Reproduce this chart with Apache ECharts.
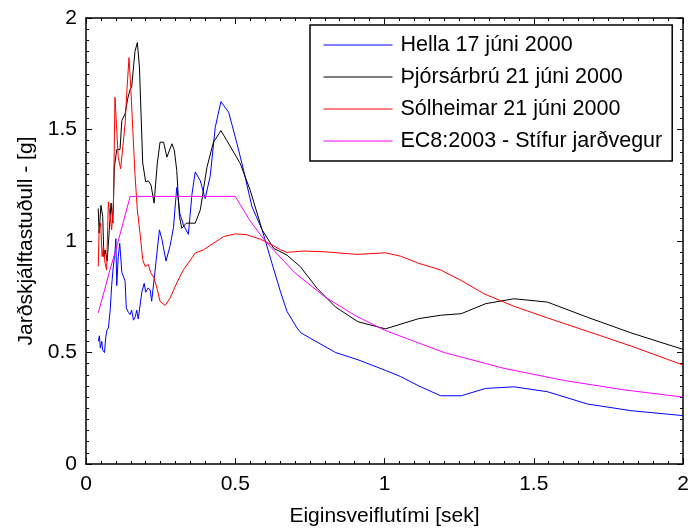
<!DOCTYPE html>
<html>
<head>
<meta charset="utf-8">
<script src="https://cdn.jsdelivr.net/npm/echarts@6/dist/echarts.min.js"></script>
<style>
html,body{margin:0;padding:0;background:#fff;}
#chart{width:692px;height:532px;}
</style>
</head>
<body>
<div id="chart"></div>
<script>
// ---- Data (period T [sek], spectral acceleration [g]) ----
var seriesNames = ['Hella 17 júni 2000', 'Þjórsárbrú 21 júni 2000', 'Sólheimar 21 júni 2000', 'EC8:2003 - Stífur jarðvegur'];

var hellaT  = [0.041,0.045,0.048,0.053,0.056,0.062,0.066,0.070,0.075,0.081,0.086,0.091,0.097,0.100,0.103,0.108,0.113,0.120,0.125,0.131,0.135,0.142,0.148,0.153,0.159,0.165,0.170,0.175,0.179,0.187,0.195,0.200,0.208,0.215,0.220,0.230,0.246,0.254,0.268,0.282,0.293,0.304,0.315,0.327,0.343,0.355,0.366,0.383,0.399,0.416,0.433,0.452,0.478,0.506,0.528,0.556,0.590,0.623,0.651,0.673,0.707,0.720,0.836,0.914,1.003,1.054,1.115,1.188,1.257,1.339,1.434,1.546,1.680,1.826,2.000];
var hellaSa = [0.55,0.575,0.52,0.55,0.51,0.50,0.566,0.60,0.61,0.69,0.80,0.88,0.95,1.01,0.80,0.93,0.99,0.86,0.86,0.82,0.70,0.68,0.67,0.69,0.645,0.66,0.69,0.65,0.65,0.77,0.81,0.77,0.79,0.78,0.73,0.85,1.05,1.01,0.91,0.98,1.06,1.24,1.12,1.07,1.03,1.21,1.31,1.27,1.19,1.29,1.51,1.625,1.577,1.436,1.317,1.154,1.05,0.90,0.775,0.685,0.61,0.588,0.50,0.466,0.42,0.392,0.35,0.306,0.306,0.339,0.346,0.324,0.269,0.239,0.217];

var thjorsT  = [0.041,0.044,0.050,0.056,0.060,0.064,0.071,0.078,0.084,0.090,0.095,0.103,0.114,0.120,0.131,0.140,0.148,0.153,0.164,0.172,0.179,0.190,0.200,0.209,0.218,0.228,0.239,0.248,0.260,0.271,0.288,0.296,0.304,0.313,0.321,0.336,0.366,0.383,0.405,0.427,0.452,0.472,0.517,0.550,0.590,0.629,0.673,0.718,0.774,0.836,0.911,1.003,1.115,1.188,1.257,1.339,1.434,1.546,1.680,1.826,2.000];
var thjorsSa = [1.146,1.035,1.16,1.11,0.93,0.96,0.91,1.05,1.17,1.08,1.33,1.41,1.41,1.54,1.57,1.64,1.68,1.69,1.85,1.89,1.78,1.35,1.265,1.27,1.25,1.17,1.35,1.443,1.443,1.376,1.436,1.406,1.317,1.11,1.057,1.08,1.08,1.14,1.33,1.443,1.495,1.45,1.347,1.228,1.05,0.967,0.937,0.885,0.788,0.704,0.638,0.606,0.652,0.667,0.674,0.719,0.741,0.726,0.658,0.588,0.514];

var solhT  = [0.041,0.044,0.049,0.054,0.058,0.064,0.069,0.075,0.081,0.086,0.092,0.097,0.103,0.108,0.116,0.120,0.131,0.137,0.144,0.150,0.164,0.172,0.181,0.190,0.198,0.209,0.217,0.228,0.239,0.248,0.265,0.282,0.304,0.327,0.366,0.394,0.427,0.461,0.500,0.539,0.584,0.623,0.651,0.673,0.729,0.796,0.908,1.003,1.054,1.115,1.188,1.257,1.334,1.434,1.546,1.680,1.826,2.000];
var solhSa = [0.886,1.05,1.08,0.93,0.975,0.90,0.87,1.176,1.183,1.05,1.17,1.644,1.644,1.376,1.324,1.317,1.525,1.673,1.822,1.688,1.30,1.14,1.035,0.916,0.886,0.894,0.857,0.834,0.783,0.73,0.711,0.745,0.812,0.872,0.946,0.961,0.99,1.02,1.032,1.028,1.008,0.983,0.961,0.949,0.955,0.952,0.94,0.947,0.932,0.90,0.87,0.823,0.763,0.707,0.655,0.595,0.529,0.444];

var ec8T  = [0.041,0.060,0.080,0.100,0.120,0.148,0.500,0.550,0.600,0.700,0.800,0.900,1.000,1.200,1.400,1.600,1.800,2.000];
var ec8Sa = [0.677,0.77,0.87,0.96,1.06,1.2,1.2,1.09,1.0,0.857,0.75,0.667,0.6,0.5,0.429,0.375,0.333,0.3];

var xTicks = [0, 0.5, 1, 1.5, 2];
var yTicks = [0, 0.5, 1, 1.5, 2];

function pairs(t, v) { return t.map(function (x, i) { return [x, v[i]]; }); }

var FONT = '"Liberation Sans", Arial, sans-serif';
var colors = ['#0000ff', '#000000', '#ff0000', '#ff00ff'];

function axisCommon(showLabel) {
  return {
    type: 'value',
    min: 0, max: 2, interval: 0.5,
    axisLine: { show: true, onZero: false, lineStyle: { color: '#000', width: 1.5 } },
    axisTick: { show: true, inside: true, length: 6, lineStyle: { color: '#000', width: 1 } },
    minorTick: { show: true, splitNumber: 10, length: 3, lineStyle: { color: '#000', width: 1 } },
    splitLine: { show: false },
    axisLabel: { show: showLabel, color: '#000', fontSize: 21, fontFamily: FONT }
  };
}

var xBottom = axisCommon(true);
xBottom.position = 'bottom';
xBottom.axisLabel.margin = 10;
xBottom.name = 'Eiginsveiflutími [sek]';
xBottom.nameLocation = 'middle';
xBottom.nameGap = 42;
xBottom.nameTextStyle = { color: '#000', fontSize: 21, fontFamily: FONT };

var xTop = axisCommon(false);
xTop.position = 'top';

var yLeft = axisCommon(true);
yLeft.position = 'left';
yLeft.axisLabel.margin = 9;
yLeft.name = 'Jarðskjálftastuðull - [g]';
yLeft.nameLocation = 'middle';
yLeft.nameGap = 45;
yLeft.nameTextStyle = { color: '#000', fontSize: 21, fontFamily: FONT };

var yRight = axisCommon(false);
yRight.position = 'right';

var dataSets = [pairs(hellaT, hellaSa), pairs(thjorsT, thjorsSa), pairs(solhT, solhSa), pairs(ec8T, ec8Sa)];

var series = dataSets.map(function (d, i) {
  return {
    name: seriesNames[i],
    type: 'line',
    data: d,
    xAxisIndex: 0,
    yAxisIndex: 0,
    symbol: 'none',
    showSymbol: false,
    clip: true,
    animation: false,
    lineStyle: { color: colors[i], width: 1 },
    itemStyle: { color: colors[i] }
  };
});

var chart = echarts.init(document.getElementById('chart'), null, { renderer: 'canvas' });
chart.setOption({
  animation: false,
  backgroundColor: '#fff',
  textStyle: { fontFamily: FONT },
  grid: { left: 86, right: 9, top: 18, bottom: 65, containLabel: false },
  xAxis: [xBottom, xTop],
  yAxis: [yLeft, yRight],
  legend: {
    data: seriesNames,
    orient: 'vertical',
    left: 310,
    top: 25,
    backgroundColor: '#fff',
    borderColor: '#000',
    borderWidth: 1.5,
    borderRadius: 0,
    padding: [9, 10, 9, 13],
    itemWidth: 69,
    itemHeight: 20,
    itemGap: 10,
    selectedMode: false,
    itemStyle: { opacity: 0 },
    lineStyle: { width: 1 },
    textStyle: { color: '#000', fontSize: 21.5, lineHeight: 22, fontFamily: FONT, padding: [0, 0, 0, 3] }
  },
  series: series
});
</script>
</body>
</html>
